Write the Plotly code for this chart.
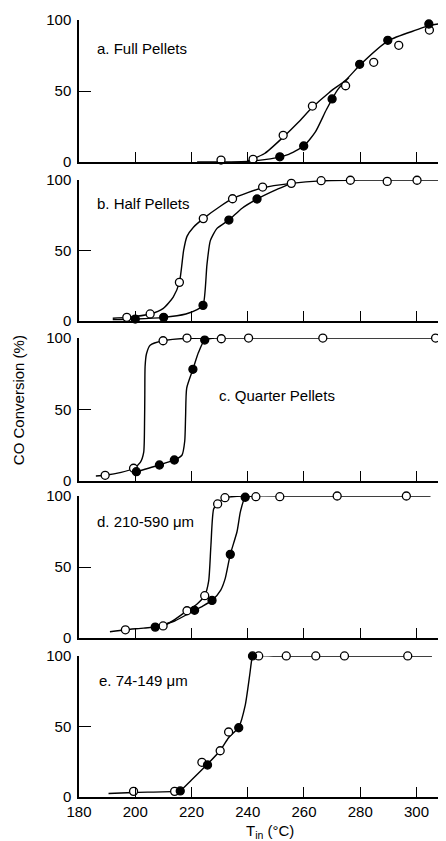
import plotly.graph_objects as go

# ---------------- data ----------------
# Panel a: Full Pellets
a_open_x = [230.5, 241.9, 252.6, 263.0, 274.8, 284.8, 293.7, 304.6]
a_open_y = [1.4, 1.9, 18.8, 39.4, 53.7, 70.2, 82.2, 92.9]
a_fill_x = [251.4, 259.9, 270.0, 279.8, 289.8, 304.4]
a_fill_y = [3.7, 11.3, 44.4, 68.8, 85.7, 97.2]
a_open_cx = [240, 246, 252.6, 258, 263, 269, 275, 280, 290, 300, 304.4, 310]
a_open_cy = [0.8, 6, 17.5, 28, 38.5, 49, 58, 68.5, 85.5, 93, 96, 98]
a_fill_cx = [222, 240, 248, 254, 259.9, 264, 268, 272, 276]
a_fill_cy = [0, 0.5, 2.2, 5, 11.3, 21, 37, 51, 59.5]

# Panel b: Half Pellets
b_open_x = [197.0, 205.3, 215.7, 224.2, 234.6, 245.3, 255.5, 266.1, 276.5, 289.6, 300.2]
b_open_y = [2.6, 5.0, 27.4, 72.6, 86.7, 95.0, 97.6, 99.5, 99.8, 99.0, 99.8]
b_fill_x = [200.0, 210.1, 224.1, 233.3, 243.3]
b_fill_y = [1.4, 2.6, 11.1, 71.6, 86.5]
b_open_cx = [192, 197, 205.3, 210, 213.5, 215.7, 217.2, 218.4, 220.7, 224.2, 230, 234.6, 240, 245.3, 255.5, 266, 280, 310]
b_open_cy = [2, 2.6, 5, 9, 17, 27.4, 50, 60, 66.5, 72.6, 81, 86.7, 91, 94.5, 97.6, 99.4, 100, 100]
b_fill_cx = [192, 200, 210.1, 218, 222, 224.1, 225.5, 226.7, 229, 233.3, 238, 243.3, 250, 255.5]
b_fill_cy = [1, 1.4, 2.6, 5, 8, 11.1, 40, 57, 65.5, 71.6, 80, 86.5, 93, 97.6]

# Panel c: Quarter Pellets
c_open_x = [189.3, 199.4, 209.9, 218.4, 230.6, 240.3, 266.7, 306.8]
c_open_y = [4.0, 8.9, 98.1, 100, 99.5, 100, 100, 100]
c_fill_x = [200.4, 208.6, 213.9, 220.5, 224.7]
c_fill_y = [6.5, 11.2, 14.7, 78.1, 98.6]
c_open_cx = [186, 189.3, 195, 199.4, 201.8, 203.0, 203.3, 203.4, 203.5, 204.0, 205.3, 209.9, 218.4, 240, 270, 310]
c_open_cy = [3.5, 4, 6, 8.9, 13, 20, 40, 60, 80, 89, 95, 98.1, 99.8, 100, 100, 100]
c_fill_cx = [200.4, 208.6, 213.9, 216.6, 217.6, 217.9, 218.3, 220.5, 222.5, 224.7, 228]
c_fill_cy = [6.5, 11.2, 14.7, 18, 28, 45, 65, 78.1, 90, 98.6, 100]

# Panel d: 210-590 um
d_open_x = [196.5, 209.9, 218.4, 224.7, 229.3, 231.9, 242.9, 251.4, 271.8, 296.4]
d_open_y = [5.8, 8.5, 19.2, 29.8, 94.4, 98.8, 99.5, 99.5, 100, 100]
d_fill_x = [207.1, 221.1, 227.3, 233.8, 239.1]
d_fill_y = [7.7, 19.5, 26.5, 58.9, 99.1]
d_open_cx = [191, 196.5, 203, 209.9, 214, 218.4, 222, 224.7, 226.1, 226.9, 227.9, 229.3, 231.9, 240, 260, 305]
d_open_cy = [4.4, 5.8, 7, 8.5, 13, 19.2, 24, 29.8, 40, 65, 91, 94.4, 98.8, 100, 100, 100]
d_fill_cx = [207.1, 214, 221.1, 224, 227.3, 230.4, 232, 233.8, 236.2, 237.4, 239.1, 242]
d_fill_cy = [7.7, 12, 19.5, 22.5, 26.5, 33.8, 42, 58.9, 75, 89, 99.1, 100]

# Panel e: 74-149 um
e_open_x = [199.4, 214.0, 223.7, 230.2, 233.2, 243.9, 253.7, 264.2, 274.4, 296.9]
e_open_y = [4.0, 4.0, 24.6, 32.8, 46.1, 100, 100, 100, 100, 100]
e_fill_x = [216.0, 225.7, 236.8, 241.7]
e_fill_y = [4.3, 22.7, 49.1, 100]
e_cx = [190.5, 199.4, 214, 216, 220, 225.8, 230.2, 233.2, 236.8, 239.1, 240.7, 241.5, 242, 250, 270, 305.5]
e_cy = [2.5, 3.2, 4, 4.5, 12, 23.5, 33, 42, 49.5, 65, 86.5, 98, 100, 100, 100, 100]

panel_labels = ["a. Full Pellets", "b. Half Pellets", "c. Quarter Pellets",
                "d. 210-590 \u03bcm", "e. 74-149 \u03bcm"]
label_pos_x = [185.8, 185.8, 229.1, 185.8, 186.4]
label_pos_y = [79.6, 83.0, 59.7, 81.9, 82.3]

x_ticks = [180, 200, 220, 240, 260, 280, 300]
y_ticks = [0, 50, 100]

# ---------------- figure ----------------
domains = [[0.8172, 1.0], [0.6126, 0.7941], [0.4067, 0.5907], [0.2046, 0.3874], [0.0, 0.1815]]

panels = [
    (a_open_x, a_open_y, a_fill_x, a_fill_y, [(a_open_cx, a_open_cy), (a_fill_cx, a_fill_cy)]),
    (b_open_x, b_open_y, b_fill_x, b_fill_y, [(b_open_cx, b_open_cy), (b_fill_cx, b_fill_cy)]),
    (c_open_x, c_open_y, c_fill_x, c_fill_y, [(c_open_cx, c_open_cy), (c_fill_cx, c_fill_cy)]),
    (d_open_x, d_open_y, d_fill_x, d_fill_y, [(d_open_cx, d_open_cy), (d_fill_cx, d_fill_cy)]),
    (e_open_x, e_open_y, e_fill_x, e_fill_y, [(e_cx, e_cy)]),
]

FONT = "Liberation Sans, Arial, Helvetica, sans-serif"
fig = go.Figure()
# the page body adds an 8px offset, so the figure is 8px smaller on each side
layout = dict(
    width=438, height=833,
    margin=dict(l=71, r=0, t=12, b=44, autoexpand=False),
    paper_bgcolor="white", plot_bgcolor="white",
    showlegend=False,
    font=dict(family=FONT, size=15, color="black"),
)

annotations = []
for i, (ox, oy, fx, fy, curves) in enumerate(panels):
    n = i + 1
    xa = "x" if n == 1 else f"x{n}"
    ya = "y" if n == 1 else f"y{n}"
    for cx, cy in curves:
        fig.add_trace(go.Scatter(x=cx, y=cy, mode="lines", xaxis=xa, yaxis=ya,
                                 line=dict(color="black", width=1.4, shape="spline", smoothing=0.6),
                                 cliponaxis=False, hoverinfo="skip"))
    fig.add_trace(go.Scatter(x=ox, y=oy, mode="markers", xaxis=xa, yaxis=ya,
                             marker=dict(symbol="circle", size=8, color="white",
                                         line=dict(color="black", width=1.3)),
                             cliponaxis=False))
    fig.add_trace(go.Scatter(x=fx, y=fy, mode="markers", xaxis=xa, yaxis=ya,
                             marker=dict(symbol="circle", size=8, color="black",
                                         line=dict(color="black", width=1.3)),
                             cliponaxis=False))
    xkey = "xaxis" if n == 1 else f"xaxis{n}"
    ykey = "yaxis" if n == 1 else f"yaxis{n}"
    last = (n == 5)
    layout[xkey] = dict(
        domain=[0, 1], anchor=ya, range=[180, 310.5],
        tickvals=x_ticks if last else x_ticks[1:],
        ticktext=[str(v) for v in x_ticks] if last else None,
        showticklabels=last,
        ticks="inside", ticklen=10, tickwidth=1.3, tickcolor="black",
        showline=True, linecolor="black", linewidth=1.5,
        showgrid=False, zeroline=False, automargin=False,
        tickfont=dict(size=15, color="black"),
    )
    if n > 1:
        layout[xkey]["matches"] = "x"
    layout[ykey] = dict(
        domain=domains[i], anchor=xa, range=[0, 100],
        tickvals=y_ticks, ticks="inside", ticklen=12, tickwidth=1.3, tickcolor="black",
        showline=True, linecolor="black", linewidth=1.5,
        showgrid=False, zeroline=False, automargin=False,
        tickfont=dict(size=15, color="black"),
        ticklabelstandoff=3,
    )
    annotations.append(dict(x=label_pos_x[i], y=label_pos_y[i], xref=xa, yref=ya,
                            text=panel_labels[i], showarrow=False, xanchor="left",
                            yanchor="middle", font=dict(size=15, color="black", family=FONT)))

annotations.append(dict(x=-0.163, y=0.511, xref="paper", yref="paper",
                        text="CO Conversion (%)", textangle=-90, showarrow=False,
                        xanchor="center", yanchor="middle",
                        font=dict(size=15, color="black", family=FONT)))
annotations.append(dict(x=248, y=-0.045, xref="x5", yref="paper",
                        text="T<sub>in</sub> (\u00b0C)", showarrow=False,
                        xanchor="center", yanchor="middle",
                        font=dict(size=15, color="black", family=FONT)))
layout["annotations"] = annotations
fig.update_layout(**layout)
fig.write_html("out.html")
